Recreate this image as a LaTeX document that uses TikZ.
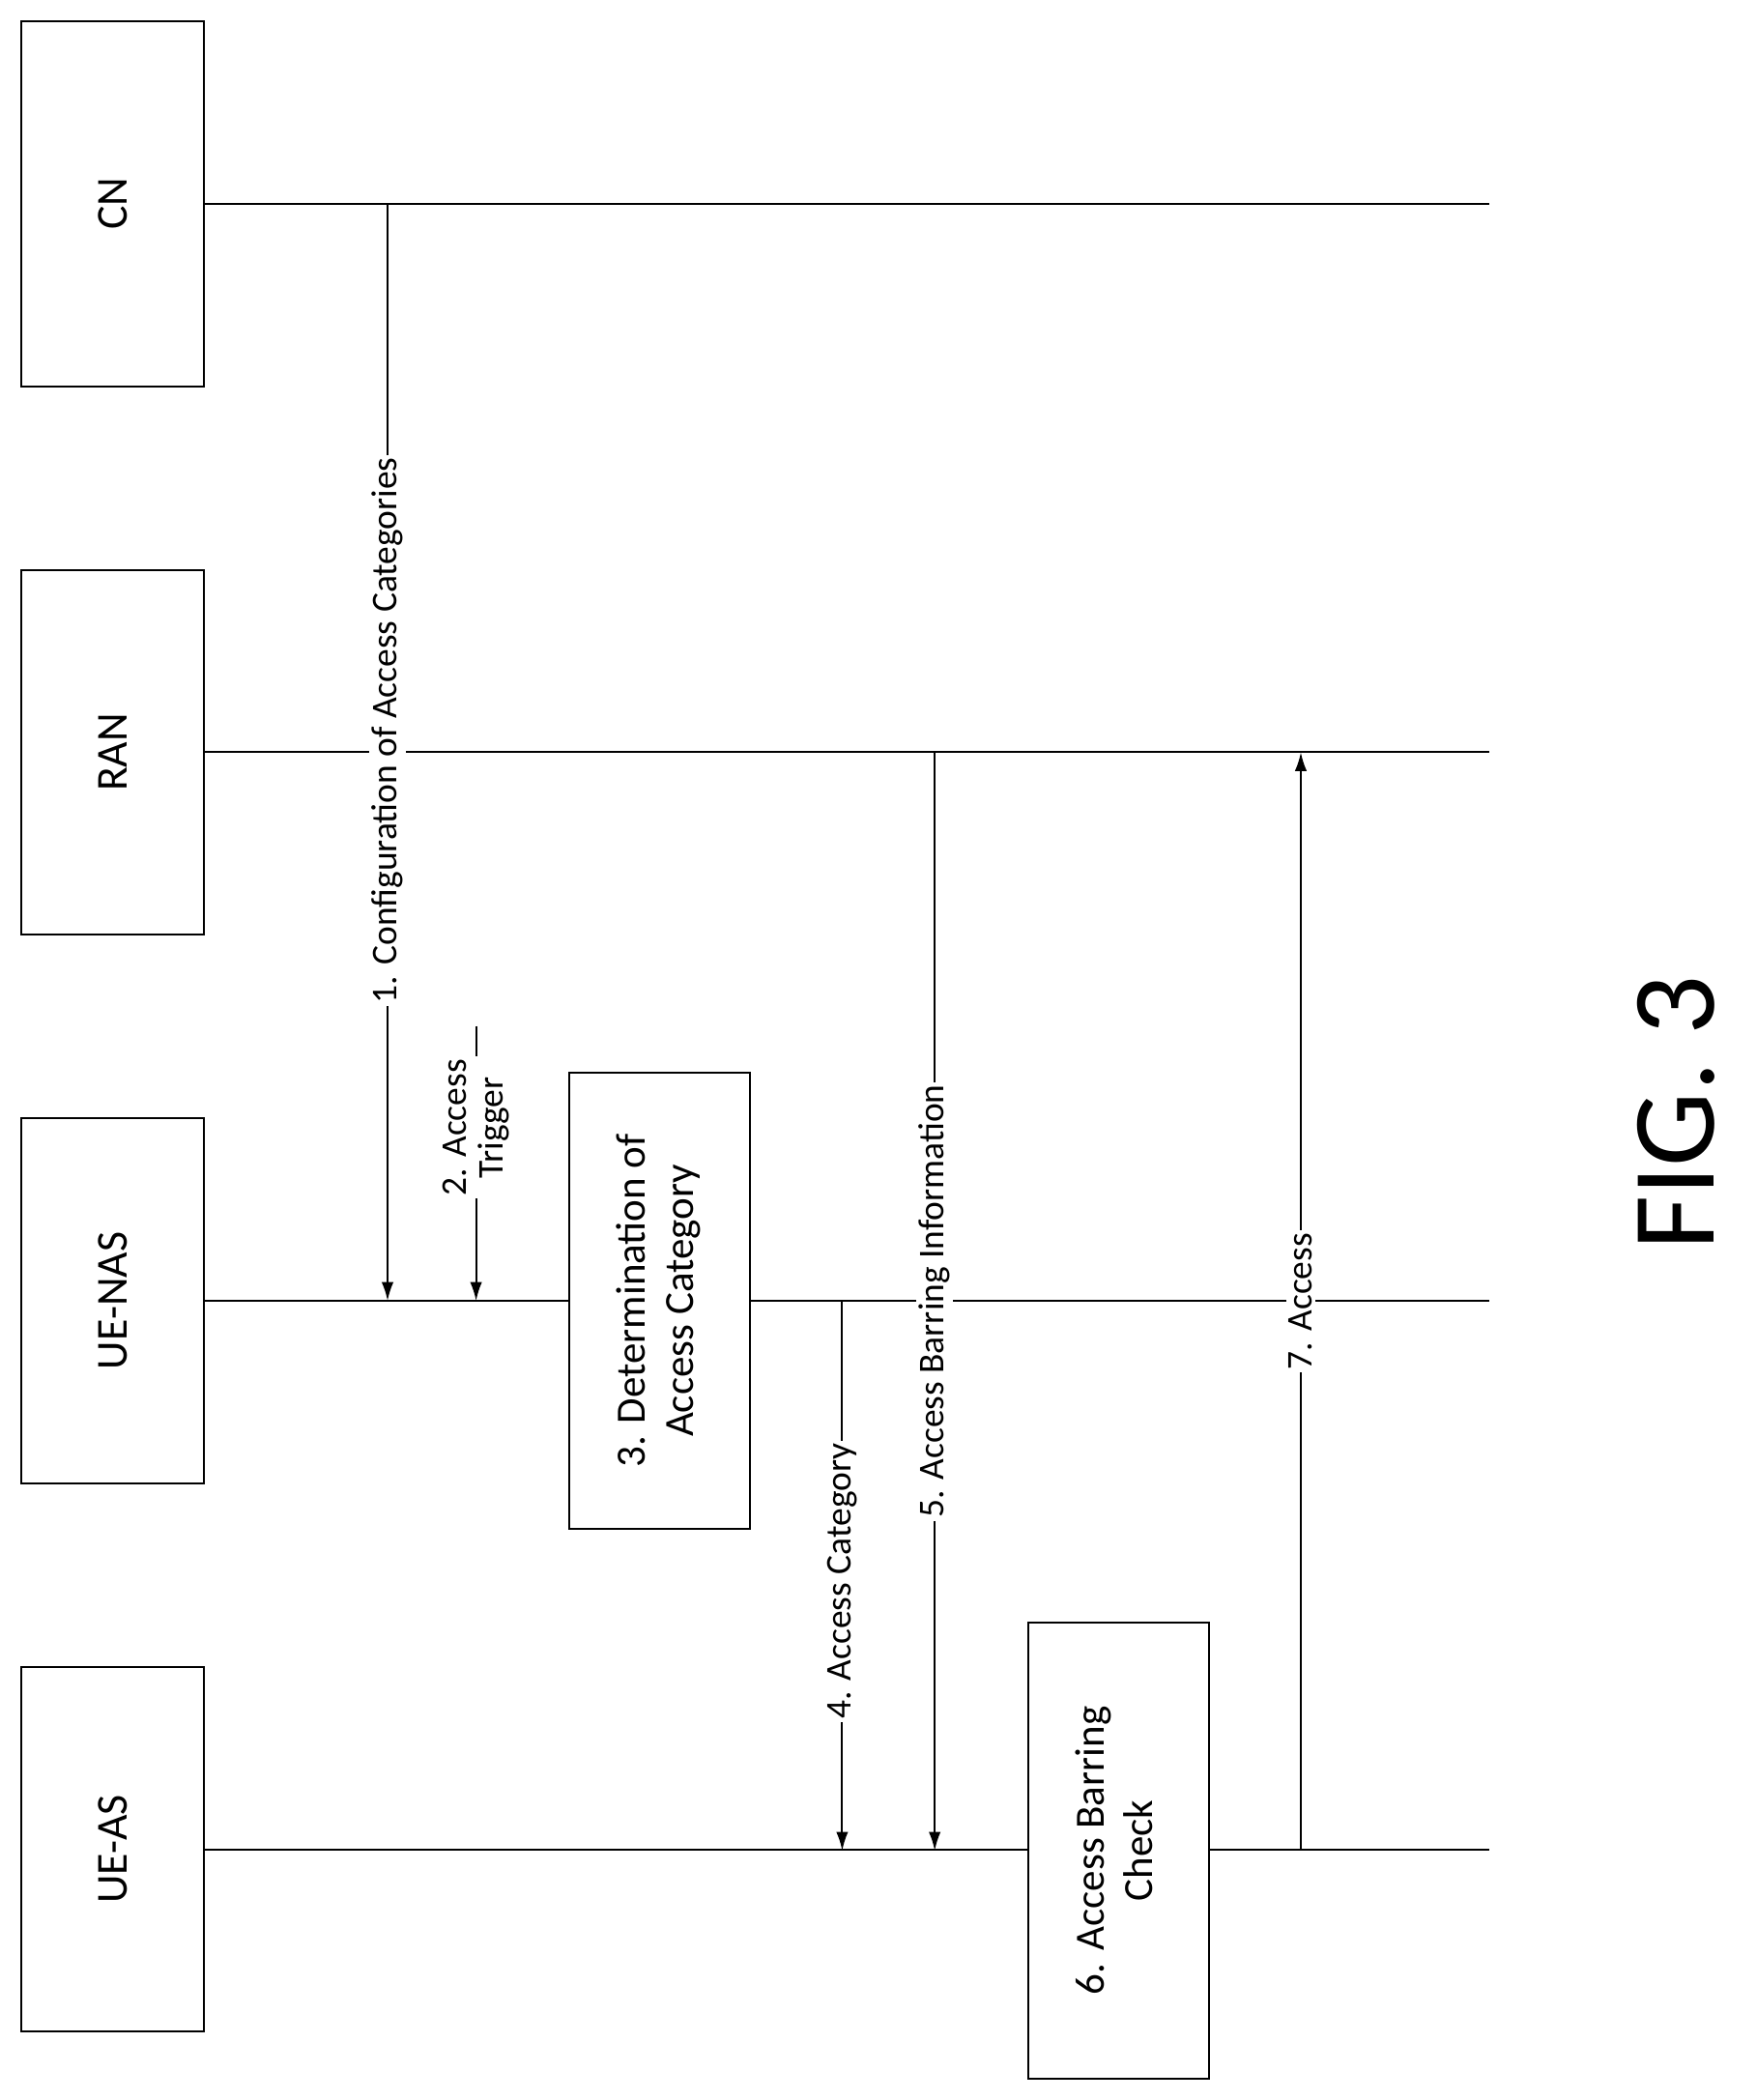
\documentclass[tikz,border=0pt]{standalone}
\usepackage{fontspec}
\setmainfont{Carlito}
\usetikzlibrary{positioning,arrows.meta}
\begin{document}
\begin{tikzpicture}[x=1pt, y=-1pt, >={Latex[length=14pt,width=9pt]}, line width=1.4pt,
  every entity/.style={draw, minimum width=136pt, minimum height=272pt, font=\fontsize{33}{38}\selectfont},
  every step/.style={draw, fill=white, minimum width=135pt, minimum height=340pt, align=center, font=\fontsize{31}{36}\selectfont},
  msg/.style={fill=white, rotate=90, inner sep=2pt, font=\fontsize{27}{28}\selectfont, align=center}]
\useasboundingbox (0,0) rectangle (1310,1566);

\foreach \m/\l [count=\y] in {cn/CN,ran/RAN,nas/UE-NAS,as/UE-AS}
  \node [every entity] (\m) at (84,{152+409*(\y-1)}) {\rotatebox{90}{\l}};

\foreach \m in {cn,ran,nas,as}
  \draw (\m.east) -- ++(958,0) coordinate (\m-end);

\node [every step] (determine) at (492,970) {\rotatebox{90}{\begin{tabular}{c}3. Determination of\\Access Category\end{tabular}}};
\node [every step] (check) at (834,1380) {\rotatebox{90}{\begin{tabular}{c}6. Access Barring\\Check\end{tabular}}};

\coordinate (m1-top) at (289,152);  \coordinate (m1-end) at (289,970);
\coordinate (m2-top) at (355,765);  \coordinate (m2-end) at (355,970);
\coordinate (m4-top) at (628,970);  \coordinate (m4-end) at (628,1380);
\coordinate (m5-top) at (697,561);  \coordinate (m5-end) at (697,1380);
\coordinate (m7-top) at (970,1380); \coordinate (m7-end) at (970,561);

\draw [->] (m1-top) -- (m1-end) node [msg, pos=0.48] {1. Configuration of Access Categories};
\draw [->] (m2-top) -- (m2-end) node [msg, pos=0.37] {2. Access\\Trigger};
\draw [->] (m4-top) -- (m4-end) node [msg, pos=0.51] {4. Access Category};
\draw [->] (m5-top) -- (m5-end) node [msg, pos=0.5] {5. Access Barring Information};
\draw [->] (m7-top) -- (m7-end) node [msg, pos=0.5] {7. Access};

\node [rotate=90, font=\fontsize{88}{96}\selectfont] (fig) at (1250,830) {FIG. 3};

\end{tikzpicture}
\end{document}
